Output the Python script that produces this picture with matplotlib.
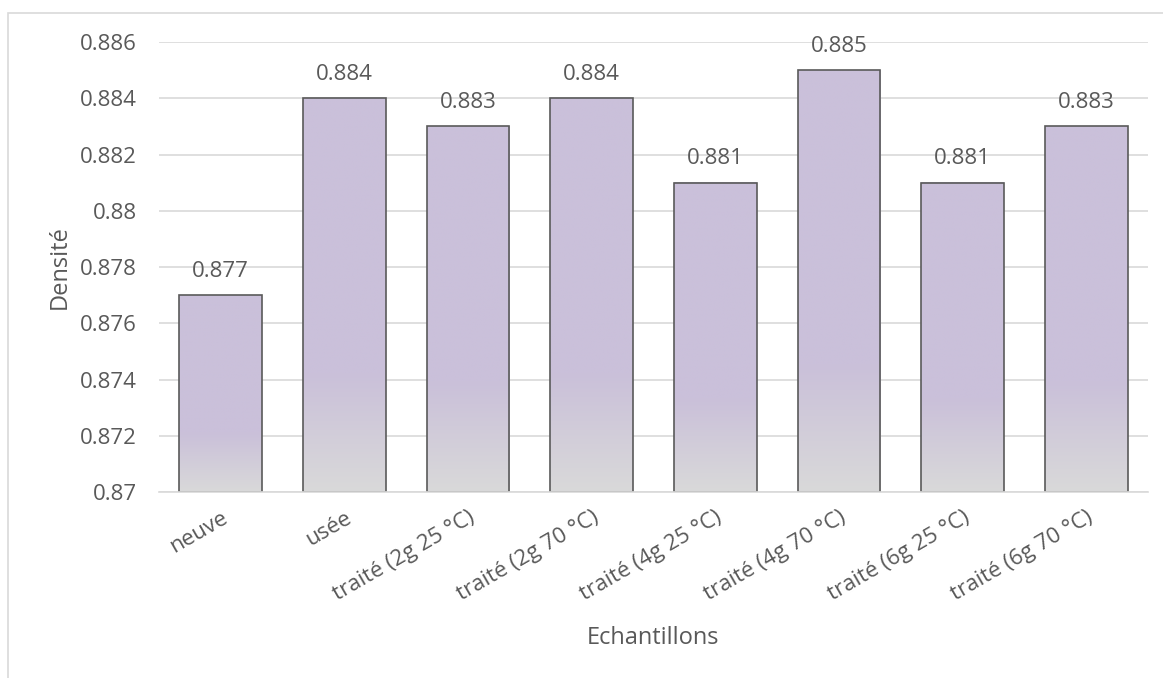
import numpy as np
import matplotlib
matplotlib.use("Agg")
import matplotlib.pyplot as plt
from matplotlib.colors import LinearSegmentedColormap
from matplotlib.patches import Rectangle

# Data
categories = ["neuve", "usée", "traité (2g 25 °C)", "traité (2g 70 °C)",
              "traité (4g 25 °C)", "traité (4g 70 °C)", "traité (6g 25 °C)",
              "traité (6g 70 °C)"]
densite = [0.877, 0.884, 0.883, 0.884, 0.881, 0.885, 0.881, 0.883]
y_ticks = [0.870, 0.872, 0.874, 0.876, 0.878, 0.880, 0.882, 0.884, 0.886]
y_tick_labels = ["0.87", "0.872", "0.874", "0.876", "0.878", "0.88",
                 "0.882", "0.884", "0.886"]

plt.rcParams["font.family"] = ["Open Sans", "DejaVu Sans"]
TEXT = "#595959"
GRID = "#D9D9D9"
PURPLE = "#CAC0DA"
GREY = "#D9D9D9"

fig = plt.figure(figsize=(11.63, 6.78), dpi=100)
ax = fig.add_axes([0.1367, 0.2743, 0.8504, 0.6637])

# chart frame
fig.patches.append(Rectangle((7.5 / 1163, -0.1), 1.2, (678 - 12.5) / 678 + 0.1,
                             transform=fig.transFigure, fill=False,
                             edgecolor=GRID, linewidth=1.2, zorder=0))

ymin, ymax = 0.870, 0.886

# vertical gradient: grey at the base, purple from ~30% of the bar height
cmap = LinearSegmentedColormap.from_list(
    "fade", [(0.0, GREY), (0.3, PURPLE), (1.0, PURPLE)])
grad = np.linspace(0, 1, 256).reshape(-1, 1)

width = 0.67
x = np.arange(len(categories))
bars = ax.bar(x, np.array(densite) - ymin, bottom=ymin, width=width,
              facecolor="none", edgecolor="#5A5A5A", linewidth=1.2, zorder=3)
for b in bars:
    x0, y0 = b.get_x(), b.get_y()
    ax.imshow(grad, cmap=cmap, aspect="auto", origin="lower",
              extent=(x0, x0 + b.get_width(), y0, y0 + b.get_height()),
              zorder=2, interpolation="bilinear")
    ax.annotate(f"{b.get_y() + b.get_height():.3f}",
                (x0 + b.get_width() / 2, y0 + b.get_height()),
                xytext=(0, 9.5), textcoords="offset points",
                ha="center", va="bottom", fontsize=16, color=TEXT)
ax.set_xlim(-0.5, len(categories) - 0.5)
ax.set_ylim(ymin, ymax)

ax.set_yticks(y_ticks)
ax.set_yticklabels(y_tick_labels)
ax.yaxis.grid(True, color=GRID, linewidth=1.2)
ax.set_axisbelow(True)
ax.tick_params(axis="y", length=0, pad=16, labelsize=16, labelcolor=TEXT)

ax.set_xticks(x)
ax.set_xticklabels(categories, rotation=30, ha="right",
                   rotation_mode="anchor")
ax.tick_params(axis="x", length=0, pad=11, labelsize=16, labelcolor=TEXT)

for s in ["top", "right", "left"]:
    ax.spines[s].set_visible(False)
ax.spines["bottom"].set_color(GRID)
ax.spines["bottom"].set_linewidth(1.2)
ax.spines["bottom"].set_zorder(4)

ax.set_xlabel("Echantillons", fontsize=17, color=TEXT, labelpad=15)
ax.set_ylabel("Densité", fontsize=17, color=TEXT, labelpad=6)

fig.savefig("out.png", dpi=100)
